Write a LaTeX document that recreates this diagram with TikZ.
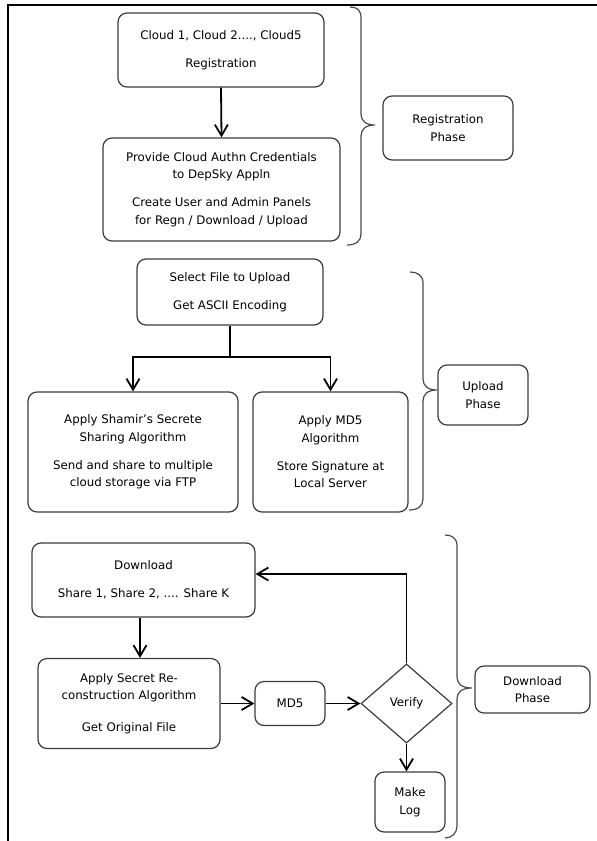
\documentclass[tikz,border=0pt]{standalone}
\usepackage{fontspec}
\setmainfont{DejaVu Sans}
\usetikzlibrary{arrows.meta,shapes.geometric,calc}
\definecolor{boxgray}{HTML}{3C3C3C}
\definecolor{bracegray}{HTML}{4A4A4A}
\newcommand\boxfont{\fontsize{11.8bp}{17.5bp}\selectfont}
\begin{document}
\begin{tikzpicture}[x=1bp,y=-1bp,
  box/.style={draw=boxgray, line width=1.2bp, rounded corners=9bp, align=center,
    inner sep=0pt, font=\boxfont, text=black},
  arr/.style={draw=black, line width=1.8bp,
    -{Straight Barb[length=11bp,width=13bp,line width=1.8bp]}},
  plainline/.style={draw=black, line width=1.8bp},
  brace/.style={draw=bracegray, line width=1.2bp}]
\useasboundingbox (0,0) rectangle (597,841);
% frame lines
\draw[line width=2.6bp, black] (8,841) -- (8,5) -- (597,5);

% Registration phase
\node[box, minimum width=206bp, minimum height=74bp] (c1) at (221,50)
  {Cloud 1, Cloud 2...., Cloud5\\[10.5bp]Registration};
\node[box, minimum width=237bp, minimum height=103bp] (c2) at (221.5,189.5)
  {Provide Cloud Authn Credentials\\to DepSky Appln\\[10.5bp]Create User and Admin Panels\\for Regn / Download / Upload};
\node[box, minimum width=130bp, minimum height=64bp] (reg) at (448,128)
  {Registration\\Phase};
\draw[arr] (c1.south) -- (c2.north);
\draw[brace] (350,7) .. controls (357,7) and (361,10) .. (361,18) -- (361,114)
  .. controls (361,121) and (366,125) .. (375,125)
  .. controls (366,125) and (361,129) .. (361,136) -- (361,234)
  .. controls (361,241) and (356,245) .. (347,245);

% Upload phase
\node[box, minimum width=186bp, minimum height=66bp] (sel) at (230,292)
  {Select File to Upload\\[10.5bp]Get ASCII Encoding};
\node[box, minimum width=210bp, minimum height=120bp] (sham) at (133,452)
  {Apply Shamir's Secrete\\Sharing Algorithm\\[10.5bp]Send and share to multiple\\cloud storage via FTP};
\node[box, minimum width=155bp, minimum height=120bp] (md5a) at (330.5,452)
  {Apply MD5\\Algorithm\\[10.5bp]Store Signature at\\Local Server};
\node[box, minimum width=90bp, minimum height=60bp] (up) at (483,395)
  {Upload\\Phase};
\coordinate (split) at (230,357);
\draw[plainline] (sel.south) -- (split);
\draw[arr] (split) -| (sham.north);
\draw[arr] (split) -| (md5a.north);
\draw[brace] (410,272) .. controls (417,272) and (423,275) .. (423,283) -- (423,379)
  .. controls (423,386) and (428,390) .. (437,390)
  .. controls (428,390) and (423,394) .. (423,401) -- (423,499)
  .. controls (423,506) and (418,510) .. (409,510);

% Download phase
\node[box, minimum width=223bp, minimum height=74bp] (dl) at (143.5,580)
  {Download\\[10.5bp]Share 1, Share 2, .... Share K};
\node[box, minimum width=182bp, minimum height=90bp] (rec) at (129,703.5)
  {Apply Secret Re-\\construction Algorithm\\[14bp]Get Original File};
\node[box, minimum width=70bp, minimum height=44bp] (md5) at (290,703.5) {MD5};
\node[diamond, draw=boxgray, line width=1.2bp, minimum width=91bp, minimum height=79bp,
  inner sep=0pt, font=\boxfont] (ver) at (406.5,703.5) {Verify};
\node[box, minimum width=70bp, minimum height=60bp] (log) at (410,802)
  {Make\\Log};
\node[box, minimum width=115bp, minimum height=47bp] (dph) at (532.5,689.5)
  {Download\\Phase};
\draw[arr] ([xshift=-3.5bp]dl.south) -- ([xshift=-3.5bp]dl.south |- rec.north);
\draw[arr] (rec.east) -- (md5.west);
\draw[arr] (md5.east) -- (ver.west);
\draw[arr] (ver.north) |- ([yshift=6bp]dl.east);
\draw[arr] (ver.south) -- (ver.south |- log.north);
\draw[brace] (445,535) .. controls (452,535) and (457,538) .. (457,546) -- (457,677)
  .. controls (457,684) and (462,688) .. (472,688)
  .. controls (462,688) and (457,692) .. (457,699) -- (457,826)
  .. controls (457,833) and (452,838) .. (445,838);
\end{tikzpicture}
\end{document}
